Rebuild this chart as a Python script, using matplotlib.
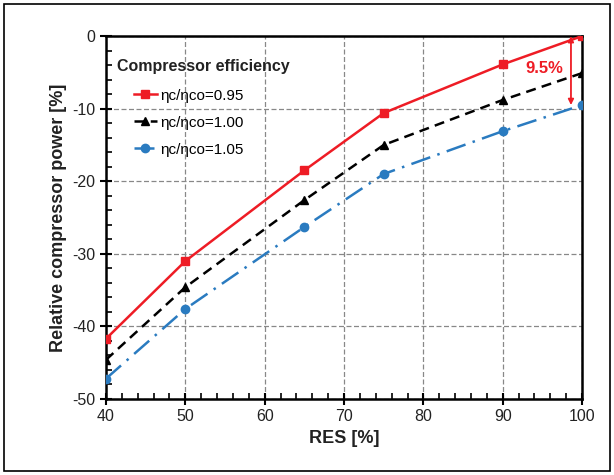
import matplotlib
matplotlib.use("Agg")
import matplotlib.pyplot as plt
from matplotlib.patches import Rectangle

plt.rcParams['font.family'] = ['Liberation Sans', 'DejaVu Sans']
plt.rcParams['axes.unicode_minus'] = False

res = [40, 50, 65, 75, 90, 100]
power_095 = [-41.7, -31.0, -18.5, -10.6, -3.9, 0.0]
power_100 = [-44.6, -34.6, -22.6, -15.0, -8.8, -5.1]
power_105 = [-47.2, -37.6, -26.3, -19.0, -13.1, -9.5]
labels = ['ηc/ηco=0.95', 'ηc/ηco=1.00', 'ηc/ηco=1.05']
legend_title = 'Compressor efficiency'
gap_label = '9.5%'

fig = plt.figure(figsize=(6.14, 4.75), dpi=100)
ax = fig.add_axes([0.1726, 0.16, 0.7754, 0.764])

ax.plot(res, power_095, color='#ee1c25', lw=1.8, marker='s', ms=6, label=labels[0], zorder=5)
ax.plot(res, power_100, color='black', lw=1.8, ls=(0, (4, 2.5)), marker='^', ms=5.5, label=labels[1], zorder=5)
ax.plot(res, power_105, color='#2a7bc0', lw=1.8, ls=(0, (8, 3, 1, 3)), marker='o', ms=6, label=labels[2], zorder=5)

ax.set_xlim(40, 100)
ax.set_ylim(-50, 0)
ax.set_xticks(range(40, 101, 10))
ax.set_yticks(range(-50, 1, 10))
ax.set_xticks(range(40, 101, 2), minor=True)
ax.set_yticks(range(-50, 1, 2), minor=True)
ax.tick_params(which='major', direction='inout', length=8, width=1.5, labelsize=11.5, colors='black', labelcolor='#222222')
ax.tick_params(which='minor', direction='in', length=4, width=1.2)
ax.grid(True, which='major', color='#888888', ls=(0, (4, 2)), lw=0.9)
for s in ax.spines.values():
    s.set_linewidth(1.8)

ax.set_xlabel('RES [%]', fontsize=13, fontweight='bold', color='#222222')
ax.set_ylabel('Relative compressor power [%]', fontsize=13, fontweight='bold', color='#222222', labelpad=4)

# legend title sits left of the indented entries
ax.text(0.023, 0.915, legend_title, transform=ax.transAxes, fontsize=11.5, fontweight='bold',
        color='#222222', ha='left', va='center')
ax.legend(loc='upper left', bbox_to_anchor=(0.058, 0.855), frameon=False, borderaxespad=0, borderpad=0,
          fontsize=11, handlelength=1.5, handletextpad=0.25, labelspacing=0.85)

# gap between best and worst case at full load
ax.annotate('', xy=(98.6, power_105[-1]), xytext=(98.6, power_095[-1]),
            arrowprops=dict(arrowstyle='<|-|>', color='#ee1c25', lw=1.3, mutation_scale=8, shrinkA=0, shrinkB=0))
ax.text(95.3, -4.5, gap_label, color='#ee1c25', fontsize=12, fontweight='bold', ha='center', va='center')

fig.patches.append(Rectangle((0.006, 0.008), 0.988, 0.984, transform=fig.transFigure,
                             fill=False, edgecolor='black', lw=1.2))

fig.savefig('out.png', dpi=100)
